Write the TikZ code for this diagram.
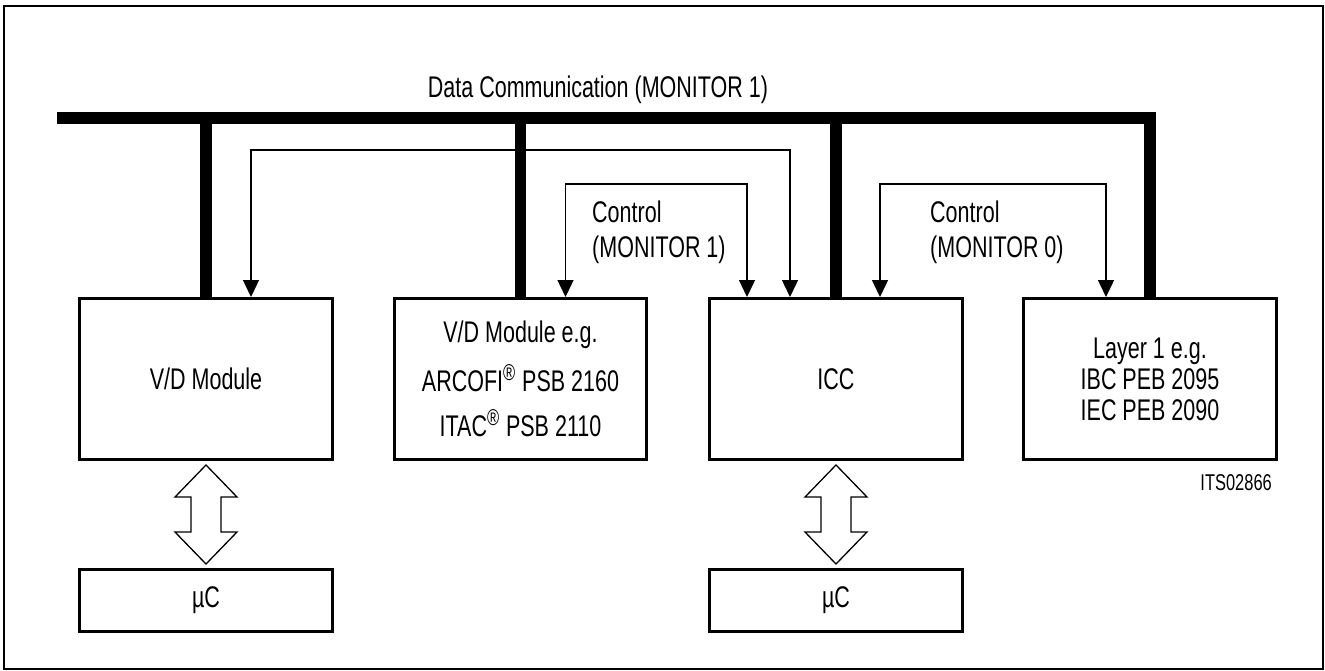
\documentclass[tikz,border=0pt]{standalone}
\usepackage{fontspec}
\setmainfont{Liberation Sans}[FakeStretch=0.72]
\usepackage{tikz}
\usetikzlibrary{positioning,calc,arrows.meta}

\newcommand{\regmark}{\textsuperscript{\fontsize{13}{13}\selectfont ®}}

\begin{document}
\begin{tikzpicture}[x=0.02cm, y=-0.02cm,
    font=\fontsize{17}{17.6}\selectfont,
    module/.style={draw, line width=0.06cm, minimum width=5.06cm, minimum height=3.22cm, align=center},
    mcu/.style={module, minimum height=1.24cm},
    bus/.style={line width=0.23cm, line join=miter},
    ctrl/.style={line width=0.026cm, {Triangle[width=0.32cm,length=0.34cm]}-{Triangle[width=0.32cm,length=0.34cm]}},
    duplex/.style={line width=0.026cm}]
    \useasboundingbox (0,0) rectangle (1325,670);
    \draw[line width=0.03cm] (4,6) rectangle (1323,669);

    % Modules
    \node[module] (vd) at (206,379) {V/D Module};
    \node[module] (arc) at (520.5,379) {V/D Module e.g.\\[8pt]ARCOFI\regmark{} PSB 2160\\[8pt]ITAC\regmark{} PSB 2110};
    \node[module] (icc) at (836,379) {ICC};
    \node[module] (layer) at (1150,379) {Layer 1 e.g.\\IBC PEB 2095\\IEC PEB 2090};

    % Microcontrollers
    \node[mcu] (uc1) at (206,600.5) {µC};
    \node[mcu] (uc2) at (836,600.5) {µC};

    % Data bus
    \coordinate (busL) at (57,118);
    \draw[bus] (busL) -- (busL -| layer.north) -- (layer.north);
    \foreach \m in {vd,arc,icc}
        \draw[bus] (\m.north |- busL) -- (\m.north);
    \node[anchor=base] (dc) at (598,97) {Data Communication (MONITOR 1)};

    % Control channels
    \draw[ctrl] ($(vd.north)+(45,0)$) -- ++(0,-147) -| ($(icc.north)+(-46,0)$);
    \draw[ctrl] ($(arc.north)+(45,0)$) -- ++(0,-113) -| ($(icc.north)+(-89,0)$);
    \draw[ctrl] ($(icc.north)+(44,0)$) -- ++(0,-113) -| ($(layer.north)+(-44,0)$);
    \node[anchor=base west, align=left] (ctl1) at (586,257) {Control\\[2.3pt](MONITOR 1)};
    \node[anchor=base west, align=left] (ctl0) at (924,257) {Control\\[2.3pt](MONITOR 0)};

    % Module <-> uC
    \foreach \a/\b in {vd/uc1,icc/uc2}
        \draw[duplex] ($(\a.south)+(0,4)$) -- ++(31,32) -- ++(-16,0) -- ++(0,35) -- ++(16,0)
            -- ($(\b.north)+(0,-4)$) -- ++(-31,-32) -- ++(16,0) -- ++(0,-35) -- ++(-16,0) -- cycle;

    \node[anchor=base east, font=\fontsize{13}{13}\selectfont] (its) at (1278,490) {ITS02866};
\end{tikzpicture}
\end{document}
